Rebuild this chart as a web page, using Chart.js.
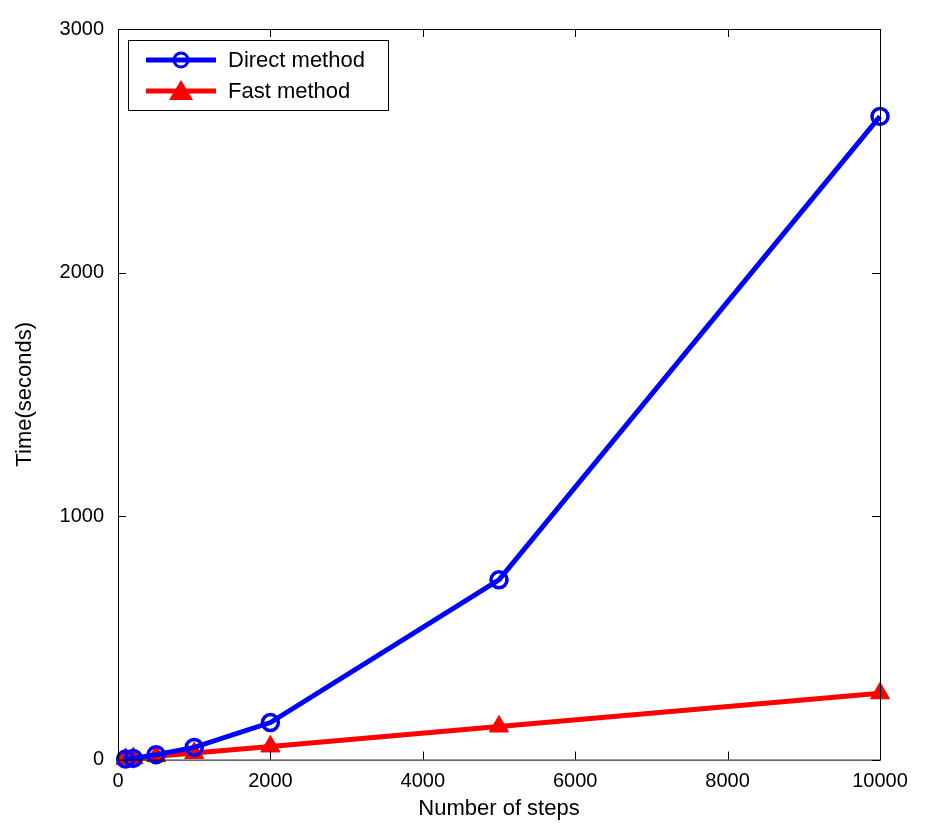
<!DOCTYPE html>
<html><head><meta charset="utf-8">
<script src="https://cdn.jsdelivr.net/npm/chart.js@4/dist/chart.umd.min.js"></script>
<style>html,body{margin:0;background:#fff}#wrap{width:931px;height:838px}</style>
</head><body><div id="wrap"><canvas id="c"></canvas></div>
<script>
const steps = [100, 200, 500, 1000, 2000, 5000, 10000];
const directTime = [2, 5, 20, 50, 152, 738, 2641];
const fastTime = [3, 6, 14, 27, 54, 136, 272];
const xTicks = [0, 2000, 4000, 6000, 8000, 10000];
const yTicks = [0, 1000, 2000, 3000];
const seriesNames = ['Direct method', 'Fast method'];

const FONT = 'Liberation Sans, Arial, sans-serif';

// box frame + inward ticks on all four sides, legend in top-left
const frame = {
  id: 'frame',
  afterDraw(chart) {
    const { ctx, chartArea: a, scales: { x, y } } = chart;
    ctx.save();
    ctx.strokeStyle = '#000'; ctx.lineWidth = 1;
    ctx.strokeRect(a.left + 0.5, a.top + 0.5, a.width, a.height);
    ctx.beginPath();
    xTicks.forEach(v => {
      const px = Math.round(x.getPixelForValue(v)) + 0.5;
      ctx.moveTo(px, a.bottom); ctx.lineTo(px, a.bottom - 8);
      ctx.moveTo(px, a.top); ctx.lineTo(px, a.top + 8);
    });
    yTicks.forEach(v => {
      const py = Math.round(y.getPixelForValue(v)) + 0.5;
      ctx.moveTo(a.left, py); ctx.lineTo(a.left + 8, py);
      ctx.moveTo(a.right, py); ctx.lineTo(a.right - 8, py);
    });
    ctx.stroke();
    // legend
    const lx = a.left + 10, ly = a.top + 11, lw = 260, lh = 70;
    ctx.fillStyle = '#fff'; ctx.fillRect(lx, ly, lw, lh);
    ctx.strokeRect(lx + 0.5, ly + 0.5, lw, lh);
    chart.data.datasets.forEach((ds, i) => {
      const cy = ly + 20 + i * 31;
      ctx.strokeStyle = ds.borderColor; ctx.lineWidth = 5;
      ctx.beginPath(); ctx.moveTo(lx + 18, cy); ctx.lineTo(lx + 88, cy); ctx.stroke();
      ctx.lineWidth = 3;
      if (i === 0) {
        ctx.beginPath(); ctx.arc(lx + 53, cy, 7, 0, Math.PI * 2); ctx.stroke();
      } else {
        ctx.fillStyle = ds.borderColor;
        ctx.beginPath(); ctx.moveTo(lx + 53, cy - 11); ctx.lineTo(lx + 65, cy + 9); ctx.lineTo(lx + 41, cy + 9); ctx.closePath(); ctx.fill();
      }
      ctx.fillStyle = '#000'; ctx.font = '22px ' + FONT; ctx.textBaseline = 'middle';
      ctx.fillText(ds.label, lx + 100, cy + 1);
    });
    ctx.restore();
  }
};

new Chart(document.getElementById('c'), {
  type: 'line',
  data: {
    datasets: [
      { label: seriesNames[0], data: steps.map((s, i) => ({ x: s, y: directTime[i] })),
        borderColor: '#0000ff', borderWidth: 5, pointStyle: 'circle', pointRadius: 8,
        pointBorderWidth: 3.5, pointBackgroundColor: 'rgba(0,0,0,0)', pointBorderColor: '#0000ff', clip: false },
      { label: seriesNames[1], data: steps.map((s, i) => ({ x: s, y: fastTime[i] })),
        borderColor: '#ff0000', borderWidth: 5, pointStyle: 'triangle', pointRadius: 11,
        pointBorderWidth: 1, pointBackgroundColor: '#ff0000', pointBorderColor: '#ff0000', clip: false }
    ]
  },
  options: {
    responsive: true, maintainAspectRatio: false, animation: false,
    layout: { padding: { top: 29, right: 51, left: 12, bottom: 8 } },
    plugins: { legend: { display: false }, tooltip: { enabled: false } },
    scales: {
      x: { type: 'linear', min: 0, max: 10000,
        afterBuildTicks: s => { s.ticks = xTicks.map(v => ({ value: v })); },
        grid: { display: false }, border: { display: false },
        ticks: { color: '#000', font: { family: FONT, size: 20 }, padding: 2, maxRotation: 0, callback: v => String(v) },
        title: { display: true, text: 'Number of steps', color: '#000', font: { family: FONT, size: 22 }, padding: { top: 0, bottom: 8 } } },
      y: { min: 0, max: 3000,
        afterBuildTicks: s => { s.ticks = yTicks.map(v => ({ value: v })); },
        afterFit: s => { s.width = 106; },
        grid: { display: false }, border: { display: false },
        ticks: { color: '#000', font: { family: FONT, size: 20 }, padding: 6, callback: v => String(v) },
        title: { display: true, text: 'Time(seconds)', color: '#000', font: { family: FONT, size: 22 }, padding: { top: 0, bottom: 6 } } }
    }
  },
  plugins: [frame]
});
</script></body></html>
